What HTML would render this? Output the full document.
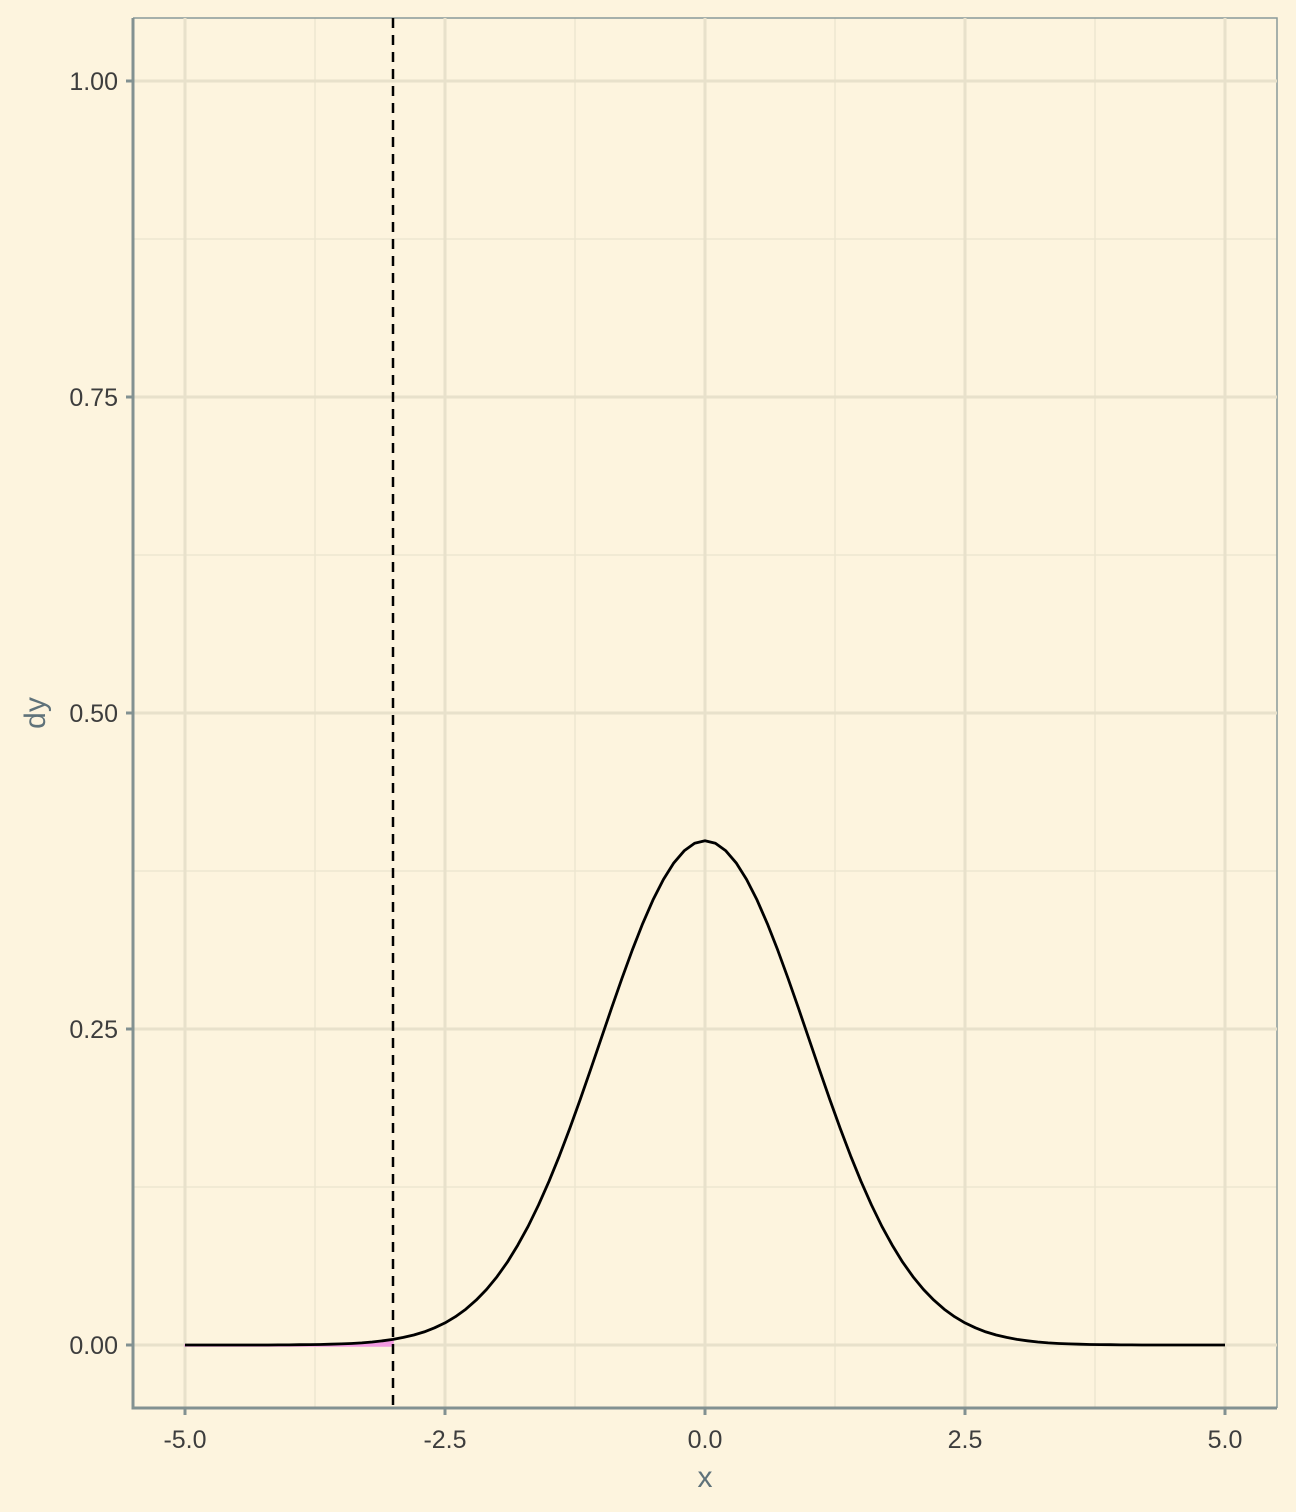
<!DOCTYPE html>
<html><head><meta charset="utf-8"><style>
body{margin:0;background:#fdf4de;}
svg{display:block;font-family:"Liberation Sans",sans-serif;}
</style></head><body>
<svg id="chart" width="1296" height="1512">
<rect x="0" y="0" width="1296" height="1512" fill="#fdf4de"/>
<g id="grid"></g>
<g id="marks"></g>
<g id="axes"></g>
<text x="705" y="1487" font-size="30" fill="#5f727a" text-anchor="middle">x</text>
<text x="0" y="0" font-size="30" fill="#5f727a" text-anchor="middle" transform="translate(45,713) rotate(-90)">dy</text>
</svg>
<script>
const xTicks=[-5,-2.5,0,2.5,5];
const xTickLabels=["-5.0","-2.5","0.0","2.5","5.0"];
const yTicks=[0,0.25,0.5,0.75,1];
const yTickLabels=["0.00","0.25","0.50","0.75","1.00"];
const xStart=-5, xStep=0.1;
const dy=[0,0,0,0,0,0,0,0,0,0.0001,0.0001,0.0002,0.0003,0.0004,0.0006,0.0009,0.0012,0.0017,0.0024,0.0033,0.0044,0.0060,0.0079,0.0104,0.0136,0.0175,0.0224,0.0283,0.0355,0.0440,0.0540,0.0656,0.0790,0.0940,0.1109,0.1295,0.1497,0.1714,0.1942,0.2179,0.2420,0.2661,0.2897,0.3123,0.3332,0.3521,0.3683,0.3814,0.3910,0.3970,0.3989,0.3970,0.3910,0.3814,0.3683,0.3521,0.3332,0.3123,0.2897,0.2661,0.2420,0.2179,0.1942,0.1714,0.1497,0.1295,0.1109,0.0940,0.0790,0.0656,0.0540,0.0440,0.0355,0.0283,0.0224,0.0175,0.0136,0.0104,0.0079,0.0060,0.0044,0.0033,0.0024,0.0017,0.0012,0.0009,0.0006,0.0004,0.0003,0.0002,0.0001,0.0001,0,0,0,0,0,0,0,0,0];
const cutoff=-3;
const NS="http://www.w3.org/2000/svg";
const L=133,R=1277,T=18,B=1408;
const sx=v=>705+v*104, sy=v=>1345-v*1264;
function mk(tag,attrs,parent){const e=document.createElementNS(NS,tag);for(const k in attrs)e.setAttribute(k,attrs[k]);parent.appendChild(e);return e;}
const grid=document.getElementById('grid'),marks=document.getElementById('marks'),axes=document.getElementById('axes');
for(let i=0;i<xTicks.length-1;i++){const v=(xTicks[i]+xTicks[i+1])/2;const e=mk('line',{x1:sx(v),x2:sx(v),y1:T,y2:B,stroke:'#ede6d0','stroke-width':1.5},grid);

}
for(let i=0;i<yTicks.length-1;i++){const v=(yTicks[i]+yTicks[i+1])/2;const e=mk('line',{x1:L,x2:R,y1:sy(v),y2:sy(v),stroke:'#ede6d0','stroke-width':1.5},grid);

}
const bd=mk('path',{d:`M${L},${T}H${R}V${B}`,fill:'none',stroke:'#8a9a9a','stroke-width':1.5},grid);


xTicks.forEach(v=>{const e=mk('line',{x1:sx(v),x2:sx(v),y1:T,y2:B,stroke:'#e8e1cb','stroke-width':3},grid);

});
yTicks.forEach(v=>{const e=mk('line',{x1:L,x2:R,y1:sy(v),y2:sy(v),stroke:'#e8e1cb','stroke-width':3},grid);

});
let pts=[],area=[];
dy.forEach((v,i)=>{const x=xStart+i*xStep;pts.push(sx(x).toFixed(1)+','+sy(v).toFixed(1));if(x<=cutoff+1e-9)area.push(sx(x).toFixed(1)+','+sy(v).toFixed(1));});
area.push(sx(cutoff)+','+(sy(0)+1));area.unshift(sx(xStart)+','+(sy(0)+1));
const ar=mk('polygon',{points:area.join(' '),fill:'#f29ae0',stroke:'#f29ae0','stroke-width':1.5},marks);


const ln=mk('polyline',{points:pts.join(' '),fill:'none',stroke:'#000','stroke-width':2.8,'stroke-linejoin':'round'},marks);


const vl=mk('line',{x1:sx(cutoff),x2:sx(cutoff),y1:T,y2:B,stroke:'#000','stroke-width':2.5,'stroke-dasharray':'10,7'},marks);


const ax=mk('path',{d:`M${L},${T}V${B}H${R}`,fill:'none',stroke:'#829191','stroke-width':3},axes);


xTicks.forEach((v,i)=>{const t=mk('line',{x1:sx(v),x2:sx(v),y1:B,y2:B+7,stroke:'#829191','stroke-width':3},axes);


const tx=mk('text',{x:sx(v),y:1448,'font-size':25,fill:'#3d3d3d','text-anchor':'middle'},axes);tx.textContent=xTickLabels[i];

});
yTicks.forEach((v,i)=>{const t=mk('line',{x1:L-7,x2:L,y1:sy(v),y2:sy(v),stroke:'#829191','stroke-width':3},axes);


const tx=mk('text',{x:118,y:sy(v)+9,'font-size':25,fill:'#3d3d3d','text-anchor':'end'},axes);tx.textContent=yTickLabels[i];

});
</script>
</body></html>
